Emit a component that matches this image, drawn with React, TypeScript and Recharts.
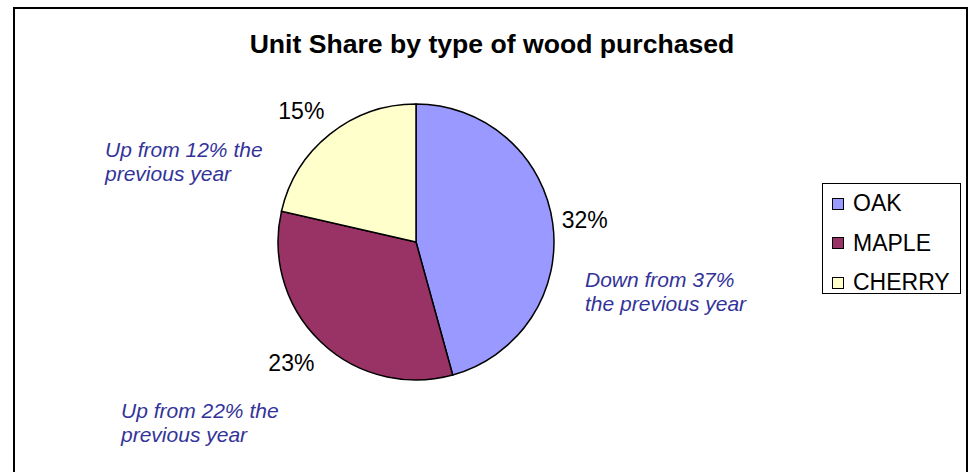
import { PieChart, Pie, Cell, Legend } from "recharts";

const woods = ["OAK", "MAPLE", "CHERRY"];
const shares = [32, 23, 15];
const notes = [
  ["Up from 12% the", "previous year"],
  ["Down from 37%", "the previous year"],
  ["Up from 22% the", "previous year"],
];

const COLORS = ["#9999FF", "#993366", "#FFFFCC"];
const FONT = "'Liberation Sans', Arial, sans-serif";
const RAD = Math.PI / 180;

const data = woods.map((name, i) => ({ name, value: shares[i] }));

// label box sits just outside the rim, pushed away along the slice direction
const renderLabel = (props: any) => {
  const { cx, cy, midAngle, outerRadius, value } = props;
  const r = outerRadius + 9;
  const cos = Math.cos(-midAngle * RAD);
  const sin = Math.sin(-midAngle * RAD);
  const x = cx + r * cos;
  const y = cy + r * sin + sin * 20;
  return (
    <text
      x={x}
      y={y}
      fill="#000"
      fontSize={23}
      fontFamily={FONT}
      textAnchor={cos >= 0 ? "start" : "end"}
      dominantBaseline="central"
    >
      {`${value}%`}
    </text>
  );
};

const LegendBox = () => (
  <div
    style={{
      border: "1px solid #000",
      boxSizing: "border-box",
      width: 139,
      height: 111,
      paddingLeft: 9,
      fontFamily: FONT,
      fontSize: 23,
      background: "#fff",
    }}
  >
    {woods.map((w, i) => (
      <div
        key={w}
        style={{ display: "flex", alignItems: "center", height: 39.5 }}
      >
        <span
          style={{
            display: "inline-block",
            width: 12,
            height: 12,
            boxSizing: "border-box",
            border: "1px solid #000",
            background: COLORS[i],
            marginRight: 9,
          }}
        />
        <span>{w}</span>
      </div>
    ))}
  </div>
);

const noteStyle = {
  position: "absolute" as const,
  fontFamily: FONT,
  fontSize: 21,
  lineHeight: "24px",
  fontStyle: "italic",
  color: "#333399",
  whiteSpace: "nowrap" as const,
};

export default function App() {
  return (
    <div
      style={{
        position: "fixed",
        left: 8,
        top: 7,
        width: 960,
        height: 465,
        overflow: "hidden",
        background: "#fff",
      }}
    >
      <div
        style={{
          position: "absolute",
          left: 5,
          top: 0,
          width: 955,
          height: 480,
          border: "2px solid #000",
          boxSizing: "border-box",
        }}
      />
      <div
        style={{
          position: "absolute",
          left: 0,
          top: 24,
          width: 968,
          textAlign: "center",
          fontFamily: FONT,
          fontSize: 26.6,
          lineHeight: "26px",
          fontWeight: "bold",
        }}
      >
        Unit Share by type of wood purchased
      </div>
      <PieChart width={960} height={465} margin={{ top: 0, right: 0, bottom: 0, left: 0 }}>
        <Pie
          data={data}
          dataKey="value"
          nameKey="name"
          cx={408}
          cy={235}
          outerRadius={138}
          startAngle={90}
          endAngle={-270}
          stroke="#000"
          strokeWidth={1.5}
          label={renderLabel}
          labelLine={false}
          isAnimationActive={false}
        >
          {data.map((d, i) => (
            <Cell key={d.name} fill={COLORS[i]} />
          ))}
        </Pie>
        <Legend
          content={() => <LegendBox />}
          wrapperStyle={{ left: 814, top: 176, right: "auto", bottom: "auto", width: 139 }}
        />
      </PieChart>
      <div style={{ ...noteStyle, left: 97, top: 131 }}>
        {notes[0][0]}
        <br />
        {notes[0][1]}
      </div>
      <div style={{ ...noteStyle, left: 577, top: 261 }}>
        {notes[1][0]}
        <br />
        {notes[1][1]}
      </div>
      <div style={{ ...noteStyle, left: 113, top: 392 }}>
        {notes[2][0]}
        <br />
        {notes[2][1]}
      </div>
    </div>
  );
}
